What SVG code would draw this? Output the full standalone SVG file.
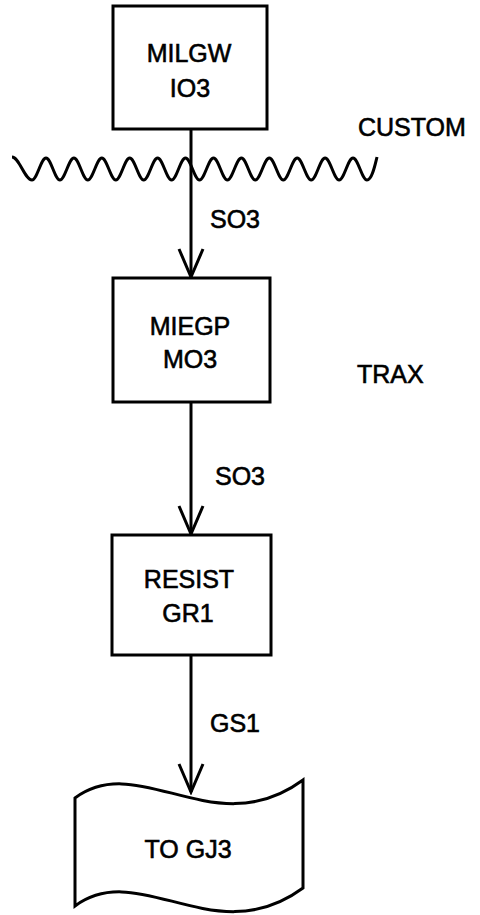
<svg xmlns="http://www.w3.org/2000/svg" width="480" height="915" viewBox="0 0 480 915">
  <style>
    .box { fill: #ffffff; stroke: #000000; stroke-width: 3; }
    .line { fill: none; stroke: #000000; stroke-width: 3; }
    .lbl { font-family: "Liberation Sans", Arial, sans-serif; font-size: 25px; fill: #000000; stroke: #000000; stroke-width: 0.6px; }
    .mid { text-anchor: middle; }
  </style>
  <defs>
    <marker id="arrow" markerUnits="userSpaceOnUse" viewBox="-31 -15 34 30" refX="0" refY="0" markerWidth="34" markerHeight="30" orient="auto">
      <path d="M-28,-12 L0,0 L-28,12" fill="none" stroke="#000000" stroke-width="3"/>
    </marker>
  </defs>
  <rect width="480" height="915" fill="#ffffff"/>

  <g id="connectors">
    <line class="line" x1="191" y1="129" x2="191" y2="277" marker-end="url(#arrow)"/>
    <line class="line" x1="191" y1="402" x2="191" y2="534" marker-end="url(#arrow)"/>
    <line class="line" x1="191" y1="655" x2="191" y2="792" marker-end="url(#arrow)"/>
    <text class="lbl" x="210" y="228">SO3</text>
    <text class="lbl" x="215" y="485">SO3</text>
    <text class="lbl" x="210" y="732">GS1</text>
  </g>

  <g id="boundary">
    <path class="line" stroke-width="3.5" d="M12,157 C19.2,157 24.8,180 32,180 C37,180 41,158 46,158 C51,158 54.9,180 59.9,180 C64.9,180 68.9,158 73.9,158 C78.9,158 82.8,180 87.8,180 C92.8,180 96.8,158 101.8,158 C106.8,158 110.8,180 115.8,180 C120.8,180 124.7,158 129.7,158 C134.7,158 138.7,180 143.7,180 C148.7,180 152.6,158 157.6,158 C162.6,158 166.6,180 171.6,180 C176.6,180 180.5,158 185.5,158 C190.5,158 194.5,180 199.5,180 C204.5,180 208.5,158 213.5,158 C218.5,158 222.4,180 227.4,180 C232.4,180 236.4,158 241.4,158 C246.4,158 250.3,180 255.3,180 C260.3,180 264.3,158 269.3,158 C274.3,158 278.3,180 283.3,180 C288.3,180 292.2,158 297.2,158 C302.2,158 306.2,180 311.2,180 C316.2,180 320.1,158 325.1,158 C330.1,158 334.1,180 339.1,180 C344.1,180 348,158 353,158 C358,158 362,180 367,180 C372,180 375,165 377,157"/>
    <text class="lbl" x="358" y="136">CUSTOM</text>
    <text class="lbl" x="357" y="383">TRAX</text>
  </g>

  <g id="node-milgw">
    <rect class="box" x="113" y="6" width="154" height="123"/>
    <text class="lbl mid" x="189" y="62">MILGW</text>
    <text class="lbl mid" x="190" y="97">IO3</text>
  </g>

  <g id="node-miegp">
    <rect class="box" x="113" y="278" width="157" height="124"/>
    <text class="lbl mid" x="190" y="335">MIEGP</text>
    <text class="lbl mid" x="190" y="368">MO3</text>
  </g>

  <g id="node-resist">
    <rect class="box" x="112" y="535" width="159" height="120"/>
    <text class="lbl mid" x="189" y="588">RESIST</text>
    <text class="lbl mid" x="188" y="622">GR1</text>
  </g>

  <g id="node-togj3">
    <path class="box" d="M75,798 C140,750 215,845 303,780 L303,888 C215,953 140,858 75,906 Z"/>
    <text class="lbl mid" x="188" y="858">TO GJ3</text>
  </g>
</svg>
